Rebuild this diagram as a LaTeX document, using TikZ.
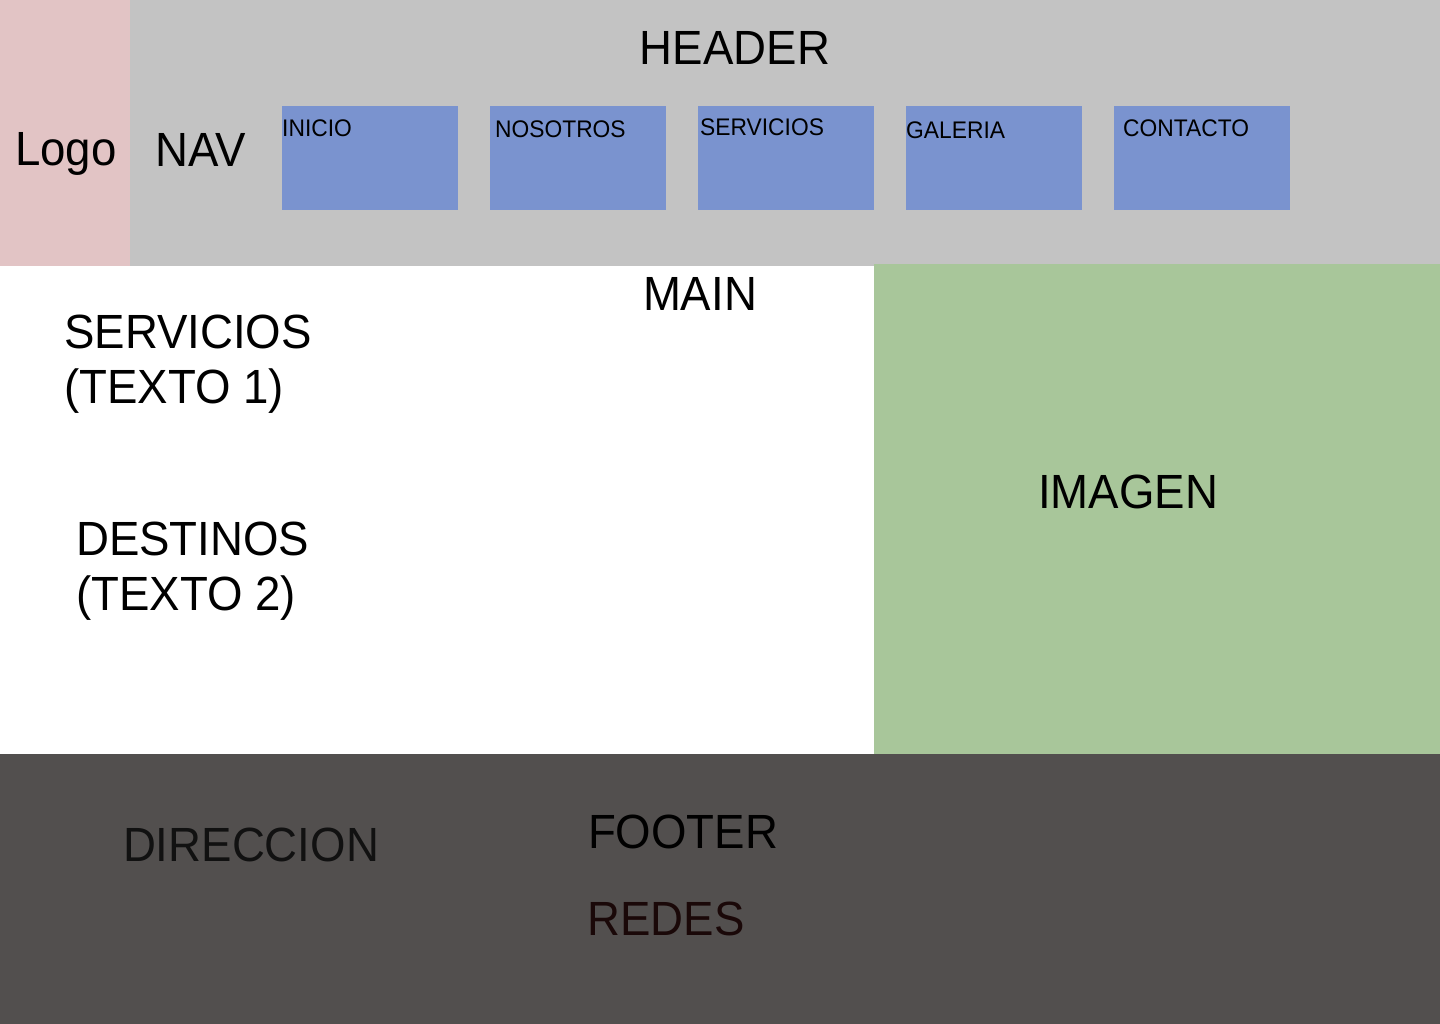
\documentclass[tikz,border=0pt]{standalone}
\usepackage{fontspec}
\setmainfont{Liberation Sans}[FakeStretch=0.95]
\usetikzlibrary{positioning}
\definecolor{logopink}{RGB}{226,196,197}
\definecolor{headgray}{RGB}{195,195,195}
\definecolor{navblue}{RGB}{122,147,207}
\definecolor{imggreen}{RGB}{168,198,154}
\definecolor{footgray}{RGB}{82,79,78}
\definecolor{dirtext}{RGB}{17,17,17}
\definecolor{redtext}{RGB}{26,8,8}

\begin{document}
\begin{tikzpicture}[x=1pt, y=-1pt]
		\tikzset{
			region/.style={inner sep=0pt, outer sep=0pt, anchor=north west},
			navbtn/.style={region, fill=navblue, minimum width=176pt, minimum height=104pt},
			big/.style={inner sep=0pt, font=\fontsize{48}{55}\selectfont},
			small/.style={inner sep=0pt, anchor=base west, font=\fontsize{24}{28}\selectfont},
		}
		\useasboundingbox (0,0) rectangle (1440,1024);
		\fill[white] (0,0) rectangle (1440,1024);
		
		% regions
		\node[region, fill=headgray, minimum width=1310pt, minimum height=266pt] (header) at (130,0) {};
		\node[region, fill=logopink, minimum width=130pt, minimum height=266pt] (logo) at (0,0) {};
		\node[region, fill=imggreen, minimum width=566pt, minimum height=490pt] (imagen) at (874,264) {};
		\node[region, fill=footgray, minimum width=1440pt, minimum height=270pt] (footer) at (0,754) {};
		
		% nav buttons
		\node[navbtn] (inicio) at (282,106) {};
		\node[navbtn] (nosotros) at (490,106) {};
		\node[navbtn] (servicios) at (698,106) {};
		\node[navbtn] (galeria) at (906,106) {};
		\node[navbtn] (contacto) at (1114,106) {};
		
		\node[small] (inicio-t) at (282,137) {INICIO};
		\node[small] (nosotros-t) at (495,138) {NOSOTROS};
		\node[small] (servicios-t) at (700,136) {SERVICIOS};
		\node[small] (galeria-t) at (906,139) {GALERIA};
		\node[small] (contacto-t) at (1123,137) {CONTACTO};
		
		% labels
		\node[big, anchor=base] (header-t) at (735,65) {HEADER};
		\node[big, anchor=base] (logo-t) at (66,166) {Logo};
		\node[big, anchor=base] (nav-t) at (201,167) {NAV};
		\node[big, anchor=base] (main-t) at (700,310) {MAIN};
		\node[big, anchor=north west, align=left] (texto1) at (64,315) {SERVICIOS\\(TEXTO 1)};
		\node[big, anchor=north west, align=left] (texto2) at (76,522) {DESTINOS\\(TEXTO 2)};
		\node[big, anchor=base] (imagen-t) at (1128,508) {IMAGEN};
		\node[big, anchor=base, text=dirtext] (dir-t) at (251,861) {DIRECCION};
		\node[big, anchor=base] (footer-t) at (683,848) {FOOTER};
		\node[big, anchor=base, text=redtext] (redes-t) at (666,935) {REDES};
	\end{tikzpicture}
\end{document}
